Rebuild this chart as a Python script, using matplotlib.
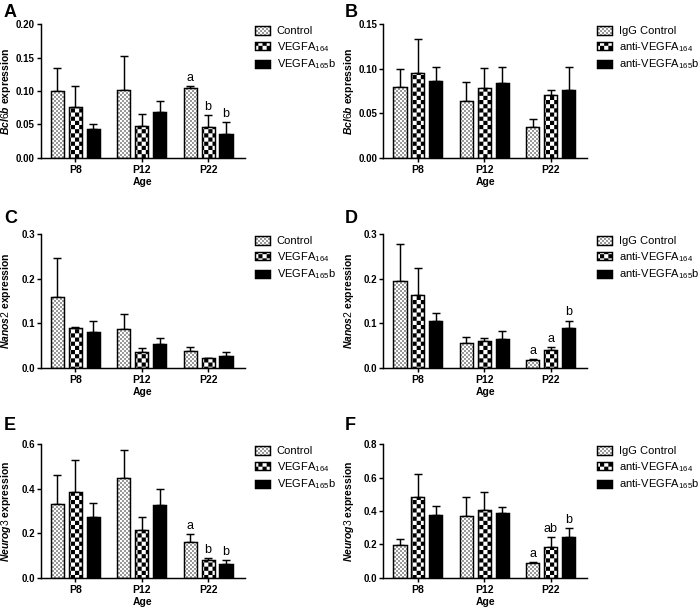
import warnings
warnings.filterwarnings('ignore')
import numpy as np
import matplotlib
matplotlib.use('Agg')
import matplotlib.pyplot as plt
import matplotlib.hatch as mhatch
from matplotlib.path import Path
from matplotlib.ticker import FormatStrFormatter, MultipleLocator

# ---------------- data ----------------
ages = ['P8', 'P12', 'P22']
labels_treat = ['Control', r'VEGFA$_{164}$', r'VEGFA$_{165}$b']
labels_anti = ['IgG Control', r'anti-VEGFA$_{164}$', r'anti-VEGFA$_{165}$b']

# Panel A: Bcl6b, treatment
a_ctrl = [0.0995, 0.102, 0.105]
a_ctrl_se = [0.035, 0.050, 0.002]
a_v164 = [0.076, 0.0475, 0.046]
a_v164_se = [0.0315, 0.0175, 0.0185]
a_v165b = [0.043, 0.068, 0.035]
a_v165b_se = [0.008, 0.017, 0.019]
a_letters = [['', '', 'a'], ['', '', 'b'], ['', '', 'b']]

# Panel B: Bcl6b, antibodies
b_ctrl = [0.080, 0.064, 0.035]
b_ctrl_se = [0.020, 0.021, 0.008]
b_v164 = [0.095, 0.078, 0.071]
b_v164_se = [0.038, 0.0225, 0.0055]
b_v165b = [0.086, 0.0836, 0.0765]
b_v165b_se = [0.016, 0.018, 0.0255]
b_letters = [['', '', ''], ['', '', ''], ['', '', '']]

# Panel C: Nanos2, treatment
c_ctrl = [0.158, 0.087, 0.0375]
c_ctrl_se = [0.088, 0.033, 0.0095]
c_v164 = [0.090, 0.0345, 0.021]
c_v164_se = [0.0015, 0.009, 0.0015]
c_v165b = [0.0795, 0.053, 0.027]
c_v165b_se = [0.0255, 0.013, 0.0075]
c_letters = [['', '', ''], ['', '', ''], ['', '', '']]

# Panel D: Nanos2, antibodies
d_ctrl = [0.196, 0.0555, 0.018]
d_ctrl_se = [0.082, 0.0135, 0.002]
d_v164 = [0.1635, 0.060, 0.039]
d_v164_se = [0.0615, 0.007, 0.0075]
d_v165b = [0.106, 0.065, 0.0885]
d_v165b_se = [0.017, 0.018, 0.0175]
d_letters = [['', '', 'a'], ['', '', 'a'], ['', '', 'b']]

# Panel E: Neurog3, treatment
e_ctrl = [0.33, 0.447, 0.162]
e_ctrl_se = [0.132, 0.126, 0.034]
e_v164 = [0.387, 0.2145, 0.0795]
e_v164_se = [0.141, 0.0585, 0.0105]
e_v165b = [0.274, 0.327, 0.0615]
e_v165b_se = [0.0635, 0.072, 0.0195]
e_letters = [['', '', 'a'], ['', '', 'b'], ['', '', 'b']]

# Panel F: Neurog3, antibodies
f_ctrl = [0.196, 0.37, 0.086]
f_ctrl_se = [0.036, 0.114, 0.006]
f_v164 = [0.484, 0.406, 0.184]
f_v164_se = [0.136, 0.11, 0.058]
f_v165b = [0.374, 0.39, 0.246]
f_v165b_se = [0.058, 0.032, 0.052]
f_letters = [['', '', 'a'], ['', '', 'ab'], ['', '', 'b']]


# ---------------- custom checkerboard hatch ----------------
class CheckerHatch(mhatch.HatchPatternBase):
    sizes = {'k': 24, 'd': 50}

    def __init__(self, hatch, density):
        self.n = 0
        for ch, n in self.sizes.items():
            if ch in hatch:
                self.n = n
        self.filled = True
        self.num_vertices = (self.n * self.n // 2) * 5

    def set_vertices_and_codes(self, vertices, codes):
        n = self.n
        s = 1.0 / n
        k = 0
        for i in range(n):
            for j in range(n):
                if (i + j) % 2 == 0:
                    x0, y0 = i * s, j * s
                    vertices[k:k + 5] = [(x0, y0), (x0 + s, y0), (x0 + s, y0 + s),
                                         (x0, y0 + s), (x0, y0)]
                    codes[k:k + 5] = [Path.MOVETO, Path.LINETO, Path.LINETO,
                                      Path.LINETO, Path.CLOSEPOLY]
                    k += 5


mhatch._hatch_types.append(CheckerHatch)

# ---------------- style ----------------
plt.rcParams['font.family'] = ['Liberation Sans', 'DejaVu Sans']
plt.rcParams['mathtext.fontset'] = 'custom'
plt.rcParams['mathtext.rm'] = 'Liberation Sans'
plt.rcParams['mathtext.it'] = 'Liberation Sans:italic:bold'
plt.rcParams['mathtext.bf'] = 'Liberation Sans:bold'
plt.rcParams['mathtext.default'] = 'regular'
plt.rcParams['hatch.linewidth'] = 0.01

W, H = 700, 612
fig = plt.figure(figsize=(W / 100, H / 100), dpi=100)

ax_w = 204 / W
ax_h = 133.4 / H
lefts = [40.7 / W, 383.3 / W]
bottoms = [1 - 157.7 / H, 1 - 367.7 / H, 1 - 577.7 / H]

LW = 1.05
x = np.arange(len(ages))
offsets = [-0.27, 0.0, 0.27]
bw = 0.2


def panel(ax, means, ses, letters, ymax, step, fmt, gene, leg_labels, leg_xy):
    handles = []
    for k, (m, s) in enumerate(zip(means, ses)):
        xs = x + offsets[k]
        ax.errorbar(xs, m, yerr=[np.zeros(len(m)), s], fmt='none', ecolor='black',
                    elinewidth=LW, capsize=2.6, capthick=LW, zorder=1)
        if k == 0:
            fill = ax.bar(xs, m, bw, color='white', edgecolor='#9a9a9a', hatch='d',
                          linewidth=0, zorder=2)
            outline = ax.bar(xs, m, bw, fill=False, edgecolor='black', linewidth=LW,
                             zorder=3)
            handles.append((fill.patches[0], outline.patches[0]))
        elif k == 1:
            b = ax.bar(xs, m, bw, color='white', edgecolor='black', hatch='k',
                       linewidth=LW, zorder=2)
            handles.append(b.patches[0])
        else:
            b = ax.bar(xs, m, bw, color='black', edgecolor='black',
                       linewidth=LW, zorder=2)
            handles.append(b.patches[0])
        for i in range(len(m)):
            if letters[k][i]:
                ax.annotate(letters[k][i], (xs[i], m[i] + s[i]), xytext=(0, 1.5),
                            textcoords='offset points', ha='center', va='bottom',
                            fontsize=9)

    ax.set_xlim(-0.52, 2.55)
    ax.set_ylim(0, ymax)
    ax.yaxis.set_major_locator(MultipleLocator(step))
    ax.yaxis.set_major_formatter(FormatStrFormatter(fmt))
    ax.set_xticks(x, ages, fontweight='bold', fontsize=7.5)
    for t in ax.get_yticklabels():
        t.set_fontweight('bold')
    ax.tick_params(axis='y', length=3, width=LW, labelsize=7, pad=1.2)
    ax.tick_params(axis='x', length=3, width=LW, labelsize=7.5, pad=2)
    for sp in ['top', 'right']:
        ax.spines[sp].set_visible(False)
    for sp in ['left', 'bottom']:
        ax.spines[sp].set_linewidth(LW)
    ax.set_xlabel('Age', fontsize=7.5, fontweight='bold', labelpad=2)
    ax.set_ylabel(r'$\mathit{' + gene + r'}$ expression', fontsize=7.5,
                  fontweight='bold')
    ax.yaxis.set_label_coords(-27.5 / 204, 0.5)
    fig.legend(handles, leg_labels, loc='upper left', bbox_to_anchor=leg_xy,
               frameon=False, fontsize=8, handlelength=1.35, handleheight=0.8,
               handletextpad=0.6, labelspacing=0.35, borderpad=0, borderaxespad=0)


panels = [
    ([a_ctrl, a_v164, a_v165b], [a_ctrl_se, a_v164_se, a_v165b_se], a_letters,
     0.20, 0.05, '%.2f', 'Bcl6b', labels_treat),
    ([b_ctrl, b_v164, b_v165b], [b_ctrl_se, b_v164_se, b_v165b_se], b_letters,
     0.15, 0.05, '%.2f', 'Bcl6b', labels_anti),
    ([c_ctrl, c_v164, c_v165b], [c_ctrl_se, c_v164_se, c_v165b_se], c_letters,
     0.3, 0.1, '%.1f', 'Nanos2', labels_treat),
    ([d_ctrl, d_v164, d_v165b], [d_ctrl_se, d_v164_se, d_v165b_se], d_letters,
     0.3, 0.1, '%.1f', 'Nanos2', labels_anti),
    ([e_ctrl, e_v164, e_v165b], [e_ctrl_se, e_v164_se, e_v165b_se], e_letters,
     0.6, 0.2, '%.1f', 'Neurog3', labels_treat),
    ([f_ctrl, f_v164, f_v165b], [f_ctrl_se, f_v164_se, f_v165b_se], f_letters,
     0.8, 0.2, '%.1f', 'Neurog3', labels_anti),
]

leg_x = [255 / W, 597 / W]
leg_y = [1 - 26 / H, 1 - 236 / H, 1 - 446 / H]
letter_pos = [(4, 4), (345, 4), (4, 210), (345, 210), (4, 417), (345, 417)]
panel_letters = ['A', 'B', 'C', 'D', 'E', 'F']

for idx, p in enumerate(panels):
    r, c = divmod(idx, 2)
    ax = fig.add_axes([lefts[c], bottoms[r], ax_w, ax_h])
    panel(ax, *p, leg_xy=(leg_x[c], leg_y[r]))
    lx, ly = letter_pos[idx]
    fig.text(lx / W, 1 - ly / H, panel_letters[idx], fontsize=13, fontweight='bold',
             ha='left', va='top')

fig.savefig('out.png', dpi=100)
